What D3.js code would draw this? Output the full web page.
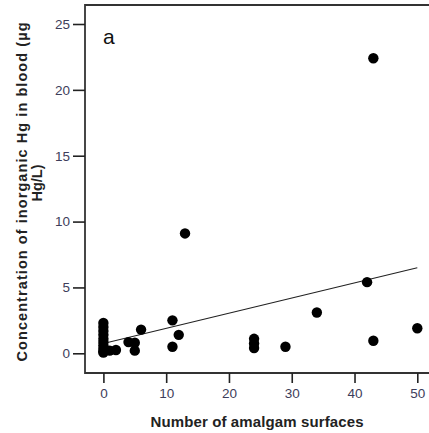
<!DOCTYPE html>
<html><head><meta charset="utf-8">
<script src="https://cdn.jsdelivr.net/npm/d3@7"></script>
<style>body{margin:0;background:#fff}svg{display:block}</style>
</head><body>
<script>
const amalgamSurfaces = [0,0,0,0,0,0,0,0,0,0,1,2,4,5,5,6,11,11,12,13,24,24,24,29,34,42,43,43,50];
const inorganicHg    = [0.15,0.35,0.6,0.85,1.1,1.4,1.7,2.0,2.3,0.05,0.2,0.25,0.85,0.8,0.2,1.8,2.5,0.5,1.4,9.1,1.1,0.75,0.4,0.5,3.1,5.4,22.4,0.95,1.9];
const fitLine = [[0,0.75],[50,6.5]];
const xTicks = [0,10,20,30,40,50];
const yTicks = [0,5,10,15,20,25];
const panelLabel = "a";
const xTitle = "Number of amalgam surfaces";
const yTitle1 = "Concentration of inorganic Hg in blood (µg";
const yTitle2 = "Hg/L)";

(function(){
const W=429,H=433;
const svg=d3.select("body").append("svg").attr("width",W).attr("height",H);
const x=d3.scaleLinear().domain([0,50]).range([103.4,417.3]);
const y=d3.scaleLinear().domain([0,25]).range([353.3,24]);
const axL=85, axB=373, axT=5;
const tickCol="#3d3d5a";
const ff="Liberation Sans, Arial, sans-serif";

svg.append("path").attr("d",`M${W+2},${axT}H${axL}V${axB}H${W+2}`)
  .attr("fill","none").attr("stroke","#333").attr("stroke-width",1.8);

const ya=svg.append("g").attr("transform",`translate(${axL},0)`)
  .call(d3.axisLeft(y).tickValues(yTicks).tickSize(12).tickPadding(3));
ya.select(".domain").remove();
ya.selectAll(".tick line").attr("stroke","#222").attr("stroke-width",1.6);
ya.selectAll(".tick text").attr("font-family",ff).attr("font-size",13.5).attr("fill",tickCol);

const xa=svg.append("g").attr("transform",`translate(0,${axB})`)
  .call(d3.axisBottom(x).tickValues(xTicks).tickSize(10).tickPadding(5));
xa.select(".domain").remove();
xa.selectAll(".tick line").attr("stroke","#222").attr("stroke-width",1.6);
xa.selectAll(".tick text").attr("font-family",ff).attr("font-size",13.5).attr("fill",tickCol);

svg.append("line").attr("x1",x(fitLine[0][0])).attr("y1",y(fitLine[0][1]))
  .attr("x2",x(fitLine[1][0])).attr("y2",y(fitLine[1][1]))
  .attr("stroke","#222").attr("stroke-width",1.1);

svg.append("g").selectAll("circle").data(amalgamSurfaces.map((d,i)=>[d,inorganicHg[i]]))
  .join("circle").attr("cx",d=>x(d[0])).attr("cy",d=>y(d[1])).attr("r",5.2).attr("fill","#000");

svg.append("text").attr("x",103).attr("y",44).attr("font-family",ff)
  .attr("font-size",21).attr("fill","#111").text(panelLabel);

svg.append("text").attr("x",257).attr("y",427).attr("text-anchor","middle")
  .attr("font-family",ff).attr("font-weight","bold").attr("font-size",15)
  .attr("textLength",213).attr("lengthAdjust","spacing")
  .attr("fill","#222").text(xTitle);

svg.append("text").attr("transform","translate(27,192) rotate(-90)").attr("text-anchor","middle")
  .attr("font-family",ff).attr("font-weight","bold").attr("font-size",14.5)
  .attr("textLength",339).attr("lengthAdjust","spacing")
  .attr("fill","#222").text(yTitle1);
svg.append("text").attr("transform","translate(42,183) rotate(-90)").attr("text-anchor","middle")
  .attr("font-family",ff).attr("font-weight","bold").attr("font-size",14.5)
  .attr("fill","#222").text(yTitle2);
})();
</script>
</body></html>
